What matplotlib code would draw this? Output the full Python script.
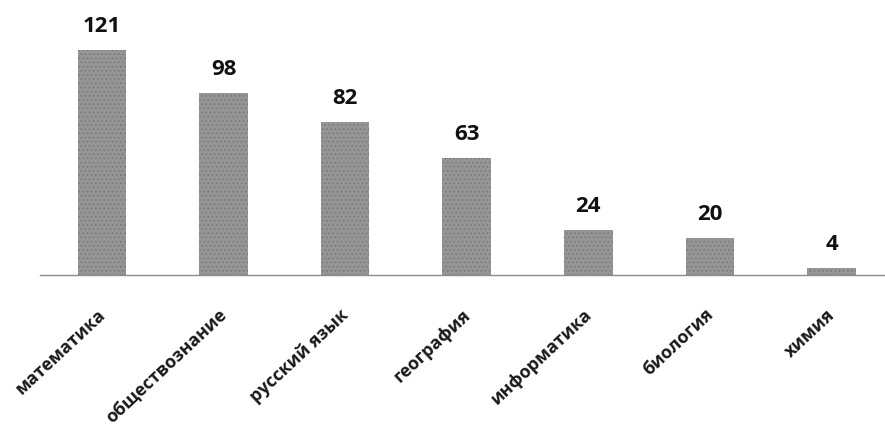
import matplotlib.pyplot as plt
import matplotlib as mpl
from matplotlib.transforms import ScaledTranslation

subjects = ["математика", "обществознание", "русский язык", "география",
            "информатика", "биология", "химия"]
counts = [121, 98, 82, 63, 24, 20, 4]

mpl.rcParams["hatch.linewidth"] = 0.6
plt.rcParams["font.family"] = ["Open Sans", "DejaVu Sans"]

fig = plt.figure(figsize=(8.85, 4.3), dpi=100)
ax = fig.add_axes([40 / 885, 1 - 275 / 430, 845 / 885, 242 / 430])

x = list(range(len(subjects)))
bars = ax.bar(x, counts, width=0.40, color="#959595", edgecolor="#777777",
              hatch="....", linewidth=0)

for xi, v in zip(x, counts):
    ax.text(xi, v + 7, str(v), ha="center", va="bottom",
            fontsize=16, fontweight="bold", color="#111111")

ax.set_xlim(-0.51, 6.44)
ax.set_ylim(0, 130)
ax.set_xticks(x)
ax.set_xticklabels(subjects, rotation=43, ha="right", va="top",
                   rotation_mode="anchor", fontsize=12.8,
                   fontweight="bold", color="#1a1a1a")
ax.tick_params(axis="x", length=0, pad=22)
shift = ScaledTranslation(-5 / 100, 0, fig.dpi_scale_trans)
for lbl in ax.get_xticklabels():
    lbl.set_transform(lbl.get_transform() + shift)
ax.set_yticks([])
for s in ["top", "right", "left"]:
    ax.spines[s].set_visible(False)
ax.spines["bottom"].set_color("#8c8c8c")
ax.spines["bottom"].set_linewidth(1.0)

fig.savefig("out.png", dpi=100)
